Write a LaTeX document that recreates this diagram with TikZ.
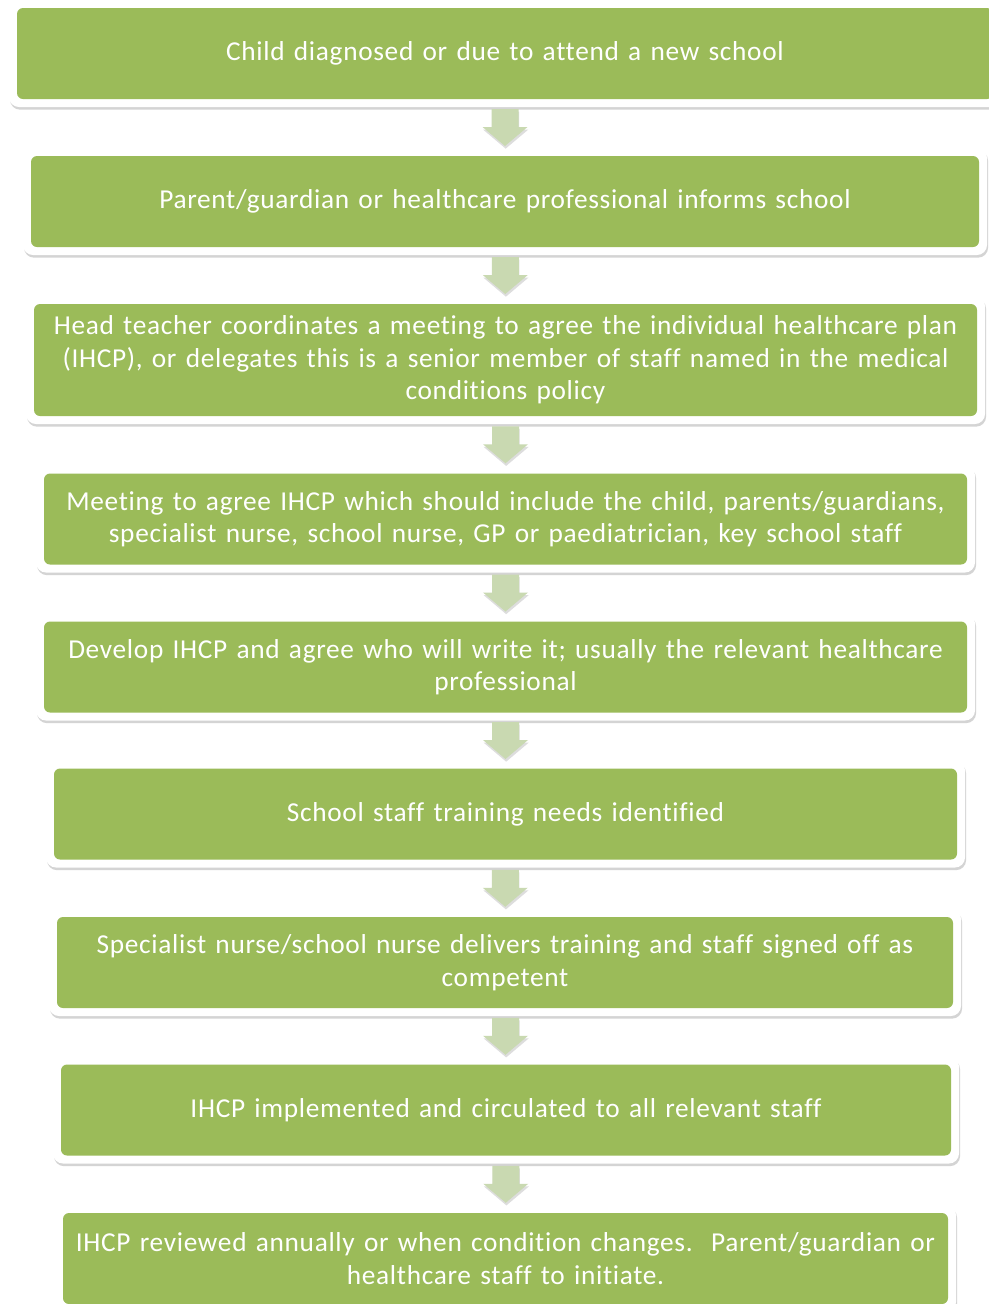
\documentclass[tikz,border=0pt]{standalone}
\usepackage{fontspec}
\setmainfont{Carlito}[Ligatures=NoCommon, LetterSpace=2.5, WordSpace=1.35]
\usetikzlibrary{calc,shadows}
\definecolor{olivegreen}{HTML}{9BBB59}
\definecolor{arrowgreen}{HTML}{C9D9B1}
\tikzset{
  stepbox/.style={rectangle, rounded corners=7.5pt, fill=white, inner sep=0pt,
    minimum height=80.25pt, text=white, align=center,
    font=\fontsize{20.5}{24.4}\selectfont,
    drop shadow={shadow xshift=0.8pt, shadow yshift=-2pt, opacity=.28, fill=black!60},
    path picture={\fill[olivegreen, rounded corners=4.5pt]
      ([xshift=6pt,yshift=6pt]path picture bounding box.south west) rectangle
      ([xshift=-6pt,yshift=-6pt]path picture bounding box.north east);}},
  blockarrow/.style={fill=arrowgreen,
    drop shadow={shadow xshift=0.5pt, shadow yshift=-2pt, opacity=.22, fill=black!60}}
}
\begin{document}
\begin{tikzpicture}[x=0.75pt,y=-0.75pt]
\useasboundingbox (0,0) rectangle (989,1304);
\fill[white] (0,0) rectangle (989,1304);
\node[stepbox, minimum width=744pt] (s1) at (505,53.5) {Child diagnosed or due to attend a new school};
\node[stepbox, minimum width=723pt] (s2) at (505,201.5) {Parent/guardian or healthcare professional informs school};
\node[stepbox, minimum width=719.25pt, minimum height=96pt] (s3) at (505.5,360) {Head teacher coordinates a meeting to agree the individual healthcare plan\\(IHCP), or delegates this is a senior member of staff named in the medical\\conditions policy};
\node[stepbox, minimum width=704.25pt] (s4) at (505.5,519) {Meeting to agree IHCP which should include the child, parents/guardians,\\specialist nurse, school nurse, GP or paediatrician, key school staff};
\node[stepbox, minimum width=704.25pt] (s5) at (505.5,667) {Develop IHCP and agree who will write it; usually the relevant healthcare\\professional};
\node[stepbox, minimum width=689.25pt] (s6) at (505.5,814) {School staff training needs identified};
\node[stepbox, minimum width=684pt] (s7) at (505,962.5) {Specialist nurse/school nurse delivers training and staff signed off as\\competent};
\node[stepbox, minimum width=679.5pt] (s8) at (506,1110) {IHCP implemented and circulated to all relevant staff};
\node[stepbox, minimum width=675.75pt] (s9) at (505.5,1258.5) {IHCP reviewed annually or when condition changes.\ \ Parent/guardian or\\healthcare staff to initiate.};
\foreach \a/\b in {s1/s2,s2/s3,s3/s4,s4/s5,s5/s6,s6/s7,s7/s8,s8/s9}{
  \fill[blockarrow] ($(\a.south)!.5!(\b.north)$) ++(-10.125pt,13.875pt) -- ++(20.25pt,0pt)
    -- ++(0pt,-13.5pt) -- ++(6.75pt,0pt) -- ++(-16.875pt,-14.25pt)
    -- ++(-16.875pt,14.25pt) -- ++(6.75pt,0pt) -- cycle;
}
\end{tikzpicture}
\end{document}
